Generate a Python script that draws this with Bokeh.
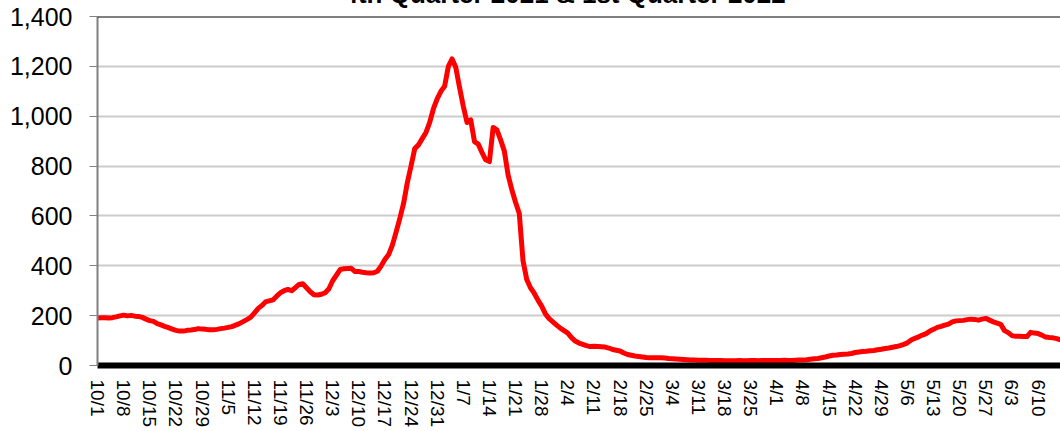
import pandas as pd
from bokeh.plotting import figure
from bokeh.models import Range1d, FixedTicker, Span, NumeralTickFormatter
from bokeh.embed import file_html
from bokeh.resources import INLINE

# ---------------- data ----------------
start_date = "2021-10-01"
title_text = "4th Quarter 2021 & 1st Quarter 2022"

oct_vals = [191, 192, 192, 191, 192, 195, 199, 202, 199, 201, 198, 197, 193, 186, 180, 177,
            168, 163, 157, 152, 146, 141, 138, 138, 141, 142, 144, 148, 146, 145, 143]
nov_vals = [143, 145, 148, 150, 153, 156, 162, 168, 176, 184, 193, 210, 228, 240, 255, 259,
            263, 278, 292, 300, 305, 300, 312, 325, 328, 312, 296, 284, 283, 286]
dec_vals = [292, 308, 340, 362, 385, 388, 389, 390, 377, 377, 374, 372, 371, 372, 378, 400,
            425, 445, 483, 535, 590, 650, 733, 800, 870, 885, 910, 935, 975, 1030, 1070]
jan_vals = [1100, 1120, 1200, 1230, 1195, 1115, 1040, 975, 985, 898, 888, 855, 825, 818, 955,
            945, 905, 860, 765, 705, 655, 610, 420, 345, 312, 290, 262, 238, 207, 188, 175]
feb_vals = [162, 150, 140, 130, 112, 98, 90, 85, 80, 76, 77, 76, 75, 74, 70, 64, 61, 58, 50,
            44, 41, 38, 36, 34, 32, 31, 31, 31]
mar_vals = [31, 30, 28, 27, 26, 25, 24, 23, 22, 22, 21, 21, 21, 20, 20, 20, 20, 19, 19, 19,
            19, 20, 19, 19, 20, 20, 19, 20, 20, 20, 20]
apr_vals = [20, 20, 21, 20, 20, 21, 22, 22, 23, 25, 27, 28, 31, 34, 38, 41, 42, 44, 45, 46,
            48, 52, 54, 56, 57, 59, 60, 63, 65, 68]
may_vals = [70, 73, 76, 80, 85, 91, 102, 109, 115, 122, 128, 138, 145, 153, 157, 162, 166,
            175, 179, 180, 181, 184, 186, 185, 182, 186, 189, 182, 175, 170, 165]
jun_vals = [140, 132, 120, 117, 117, 116, 116, 133, 130, 128, 122, 114, 112, 111, 108, 103]

tick_labels = ["10/1", "10/8", "10/15", "10/22", "10/29", "11/5", "11/12", "11/19", "11/26",
               "12/3", "12/10", "12/17", "12/24", "12/31", "1/7", "1/14", "1/21", "1/28",
               "2/4", "2/11", "2/18", "2/25", "3/4", "3/11", "3/18", "3/25", "4/1", "4/8",
               "4/15", "4/22", "4/29", "5/6", "5/13", "5/20", "5/27", "6/3", "6/10"]
y_ticks = [0, 200, 400, 600, 800, 1000, 1200, 1400]

# ---------------- build ----------------
values = oct_vals + nov_vals + dec_vals + jan_vals + feb_vals + mar_vals + apr_vals + may_vals + jun_vals
start = pd.Timestamp(start_date)
dates = pd.date_range(start, periods=len(values), freq="D")
days = [(d - start).days for d in dates]


def label_to_day(lbl):
    m, d = (int(s) for s in lbl.split("/"))
    year = 2021 if m >= 10 else 2022
    return (pd.Timestamp(year=year, month=m, day=d) - start).days


tick_pos = [label_to_day(l) for l in tick_labels]

FONT = "Liberation Sans"
x_end = days[-1]
y_top = y_ticks[-1]

p = figure(width=1060, height=462, output_backend="svg", toolbar_location=None,
           x_range=Range1d(0, x_end), y_range=Range1d(0, y_top),
           min_border_left=97, min_border_right=0, min_border_top=0, min_border_bottom=66,
           background_fill_color="white", border_fill_color="white",
           outline_line_color=None,
           styles={"margin-top": "-31px", "margin-bottom": "-40px"})

# chart title (only its lower part shows in the window)
p.title.text = title_text
p.title.align = "left"
p.title.offset = 246
p.title.standoff = 15
p.title.text_font = FONT
p.title.text_font_style = "bold"
p.title.text_font_size = "26px"
p.title.text_color = "black"

p.line(days, values, line_color="#ff0000", line_width=5, line_join="round")

# grid
p.xgrid.grid_line_color = None
p.ygrid.grid_line_color = "#cccccc"
p.ygrid.grid_line_width = 2
p.ygrid.ticker = FixedTicker(ticks=y_ticks)

# y axis
p.yaxis.ticker = FixedTicker(ticks=y_ticks)
p.yaxis.formatter = NumeralTickFormatter(format="0,0")
p.yaxis.axis_line_color = "#808080"
p.yaxis.axis_line_width = 2
p.yaxis.major_tick_line_color = "#808080"
p.yaxis.major_tick_out = 8
p.yaxis.major_tick_in = 0
p.yaxis.minor_tick_line_color = None
p.yaxis.major_label_standoff = 17
p.yaxis.major_label_text_font = FONT
p.yaxis.major_label_text_font_size = "25px"
p.yaxis.major_label_text_color = "black"

# x axis
p.xaxis.ticker = FixedTicker(ticks=tick_pos)
p.xaxis.major_label_overrides = {pos: lbl for pos, lbl in zip(tick_pos, tick_labels)}
p.xaxis.axis_line_color = "black"
p.xaxis.axis_line_width = 6
p.xaxis.major_tick_line_color = None
p.xaxis.major_tick_out = 0
p.xaxis.major_tick_in = 0
p.xaxis.minor_tick_line_color = None
p.xaxis.major_label_orientation = "vertical"
p.xaxis.major_label_standoff = 14
p.xaxis.major_label_text_font = FONT
p.xaxis.major_label_text_font_size = "19px"
p.xaxis.major_label_text_color = "black"

# top border of plot area
p.add_layout(Span(location=y_top, dimension="width", line_color="black", line_width=2))

open("out.html", "w").write(file_html(p, INLINE))
